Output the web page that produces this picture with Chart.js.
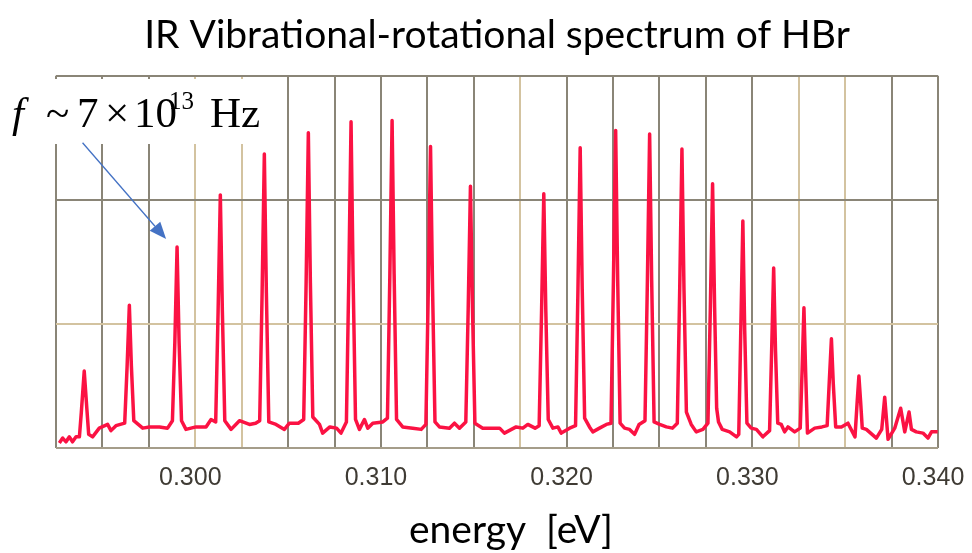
<!DOCTYPE html>
<html><head><meta charset="utf-8">
<script src="https://cdn.jsdelivr.net/npm/chart.js@4.4.1/dist/chart.umd.min.js"></script>
<style>html,body{margin:0;padding:0;background:#fff}#wrap{width:972px;height:553px}</style>
</head><body><div id="wrap"><canvas id="c" width="972" height="553"></canvas></div>
<script>
// ---- data ----
const energy = [
0.29268,0.29286,0.29304,0.29322,0.29339,0.29358,0.29376,0.29386,0.29402,0.29416,
0.29426,0.29447,0.29483,0.29528,0.29546,0.29573,
0.29620,0.29633,0.29645,0.29656,0.29669,0.29717,0.29753,0.29807,0.29851,
0.29877,0.29890,0.29902,0.29913,0.29926,0.29950,0.30004,0.30058,0.30085,
0.30110,0.30123,0.30135,0.30146,0.30159,0.30193,0.30238,0.30292,0.30325,
0.30347,0.30360,0.30372,0.30383,0.30396,0.30435,0.30480,0.30507,0.30555,
0.30584,0.30597,0.30609,0.30620,0.30633,0.30669,0.30686,0.30725,0.30761,0.30785,
0.30814,0.30827,0.30839,0.30850,0.30863,0.30884,0.30911,0.30929,0.30956,0.31010,
0.31035,0.31048,0.31060,0.31071,0.31084,0.31117,0.31171,0.31217,
0.31242,0.31255,0.31267,0.31278,0.31291,0.31315,0.31369,0.31396,0.31423,
0.31457,0.31470,0.31482,0.31493,0.31506,0.31548,0.31585,0.31639,0.31665,0.31728,0.31764,0.31791,0.31830,
0.31852,0.31865,0.31877,0.31888,0.31901,0.31926,0.31953,0.31971,0.32016,
0.32048,0.32061,0.32073,0.32084,0.32097,0.32123,0.32141,0.32177,0.32214,
0.32239,0.32252,0.32264,0.32275,0.32288,0.32312,0.32339,0.32366,0.32390,
0.32422,0.32435,0.32447,0.32458,0.32471,0.32501,0.32537,0.32570,
0.32596,0.32609,0.32621,0.32632,0.32645,0.32671,0.32698,0.32734,
0.32761,0.32774,0.32786,0.32797,0.32808,0.32818,0.32838,0.32878,0.32915,
0.32927,0.32938,0.32949,0.32959,0.32971,0.32994,0.33022,0.33057,
0.33093,0.33104,0.33115,0.33125,0.33137,0.33156,0.33174,0.33192,0.33228,
0.33258,0.33268,0.33278,0.33287,0.33297,0.33336,0.33375,
0.33403,0.33414,0.33426,0.33436,0.33449,0.33480,0.33515,0.33553,
0.33565,0.33574,0.33583,0.33592,0.33614,0.33668,0.33697,0.33713,0.33722,0.33731,
0.33767,0.33799,0.33821,0.33844,0.33857,0.33883,0.33919,0.33946,0.33965,0.33998
];
const intensity = [
0.04,0.08,0.05,0.09,0.05,0.09,0.09,0.28,0.62,0.32,
0.11,0.09,0.16,0.19,0.14,0.18,
0.20,0.66,1.15,0.66,0.22,0.16,0.17,0.17,0.16,
0.22,0.85,1.62,0.85,0.22,0.15,0.17,0.17,0.23,
0.21,1.10,2.04,1.10,0.22,0.15,0.22,0.19,0.20,
0.22,1.25,2.37,1.25,0.21,0.19,0.15,0.20,0.20,
0.23,1.33,2.54,1.33,0.25,0.19,0.12,0.17,0.16,0.12,
0.21,1.38,2.63,1.38,0.23,0.15,0.23,0.16,0.20,0.21,
0.24,1.40,2.64,1.40,0.23,0.17,0.16,0.15,
0.19,1.28,2.43,1.28,0.21,0.17,0.16,0.20,0.16,
0.21,1.13,2.11,1.13,0.20,0.16,0.16,0.16,0.12,0.17,0.16,0.19,0.16,
0.18,1.10,2.05,1.10,0.23,0.16,0.17,0.12,0.16,
0.18,1.28,2.42,1.28,0.24,0.17,0.13,0.16,0.19,
0.20,1.35,2.56,1.35,0.20,0.16,0.15,0.11,0.19,
0.22,1.35,2.53,1.35,0.21,0.19,0.17,0.16,
0.20,1.28,2.41,1.28,0.29,0.19,0.13,0.15,
0.20,1.13,2.13,1.13,0.32,0.21,0.15,0.13,0.09,
0.11,0.95,1.83,0.95,0.20,0.16,0.15,0.09,
0.14,0.78,1.45,0.78,0.20,0.19,0.13,0.17,0.13,
0.16,0.62,1.13,0.62,0.12,0.16,0.17,
0.18,0.52,0.88,0.52,0.17,0.17,0.20,0.09,
0.38,0.58,0.38,0.16,0.15,0.08,0.15,0.41,0.24,0.07,
0.16,0.32,0.13,0.29,0.15,0.13,0.12,0.08,0.13,0.13
];
const xGridValues = [0.2925,0.2950,0.2975,0.3000,0.3025,0.3050,0.3075,0.3100,0.3125,0.3150,
                     0.3175,0.3200,0.3225,0.3250,0.3275,0.3300,0.3325,0.3350,0.3375,0.3400];
const xTickLabels = ['0.300','0.310','0.320','0.330','0.340'];
const tanGridValues = [0.3000,0.3025,0.3175,0.3325,0.3350];
const yGridValues = [0,1,2,3];
const arrowFrom = {x:0.29393, y:2.46};
const arrowTo = {x:0.29843, y:1.684};
const titleText = 'IR Vibrational-rotational spectrum of HBr';
const xAxisTitle = 'energy  [eV]';

const DARK = '#8a8577', TAN = '#d3c3a0', BOTTOM = '#a59d8a';

const annotationPlugin = {
  id: 'annot',
  afterDraw(chart) {
    const {ctx, chartArea, scales: {x, y}} = chart;
    ctx.save();
    // x-axis title
    ctx.fillStyle = '#000';
    ctx.font = '39px Lato';
    ctx.textAlign = 'center';
    ctx.textBaseline = 'middle';
    ctx.fillText(xAxisTitle, (chartArea.left + chartArea.right) / 2 + 14, 530);
    // frequency note
    ctx.fillStyle = '#fff';
    ctx.fillRect(0, 79, 286, 65);
    ctx.fillStyle = '#000';
    ctx.textBaseline = 'alphabetic';
    ctx.textAlign = 'left';
    ctx.font = 'italic 43px "Liberation Serif"';
    ctx.fillText('f', 12, 127);
    ctx.font = '43px "Liberation Serif"';
    ctx.fillText('~', 46, 127);
    ctx.fillText('7', 77, 127);
    ctx.fillText('×', 105, 127);
    ctx.fillText('10', 134, 127);
    ctx.fillText('Hz', 210, 127);
    ctx.font = '25px "Liberation Serif"';
    ctx.fillText('13', 169, 109);
    const x1 = x.getPixelForValue(arrowFrom.x), y1 = y.getPixelForValue(arrowFrom.y);
    const x2 = x.getPixelForValue(arrowTo.x), y2 = y.getPixelForValue(arrowTo.y);
    const ang = Math.atan2(y2 - y1, x2 - x1), L = 17, W = 7;
    const bx = x2 - L * Math.cos(ang), by = y2 - L * Math.sin(ang);
    ctx.strokeStyle = '#4472c4'; ctx.lineWidth = 1.3;
    ctx.beginPath(); ctx.moveTo(x1, y1); ctx.lineTo(bx, by); ctx.stroke();
    ctx.fillStyle = '#4472c4';
    ctx.beginPath(); ctx.moveTo(x2, y2);
    ctx.lineTo(bx + W * Math.sin(ang), by - W * Math.cos(ang));
    ctx.lineTo(bx - W * Math.sin(ang), by + W * Math.cos(ang));
    ctx.closePath(); ctx.fill();
    ctx.restore();
  }
};

new Chart(document.getElementById('c'), {
  type: 'line',
  data: {
    datasets: [{
      data: energy.map((e, i) => ({x: e, y: intensity[i]})),
      borderColor: '#fb1243',
      borderWidth: 3.5,
      borderJoinStyle: 'round',
      pointRadius: 0,
      tension: 0,
      fill: false
    }]
  },
  options: {
    responsive: false,
    animation: false,
    devicePixelRatio: 1,
    layout: {padding: {left: 56, right: 34, top: 0, bottom: 45}},
    plugins: {
      legend: {display: false},
      tooltip: {enabled: false},
      title: {
        display: true,
        text: titleText,
        color: '#000',
        font: {family: 'Lato', size: 39, weight: 'normal'},
        padding: {top: 12, bottom: 17}
      }
    },
    scales: {
      x: {
        type: 'linear',
        min: 0.2925, max: 0.3400,
        afterBuildTicks: (s) => { s.ticks = xGridValues.map(v => ({value: v})); },
        grid: {
          color: (c) => tanGridValues.some(v => Math.abs(v - c.tick.value) < 1e-7) ? TAN : DARK,
          lineWidth: 2, drawTicks: false
        },
        border: {display: false},
        ticks: {
          color: '#3f3b34',
          font: {family: 'Liberation Sans', size: 25, lineHeight: 2.24},
          padding: 2,
          labelOffset: -5,
          maxRotation: 0,
          autoSkip: false,
          callback: (v) => Math.abs(v * 100 - Math.round(v * 100)) < 1e-6 && xTickLabels.includes(v.toFixed(3)) ? v.toFixed(3) : ''
        }
      },
      y: {
        min: 0, max: 3,
        afterBuildTicks: (s) => { s.ticks = yGridValues.map(v => ({value: v})); },
        grid: {
          color: (c) => c.tick.value === 0 ? BOTTOM : (c.tick.value === 1 ? TAN : DARK),
          lineWidth: 2, drawTicks: false
        },
        border: {display: false},
        ticks: {display: false}
      }
    }
  },
  plugins: [annotationPlugin]
});
</script>
</body></html>
